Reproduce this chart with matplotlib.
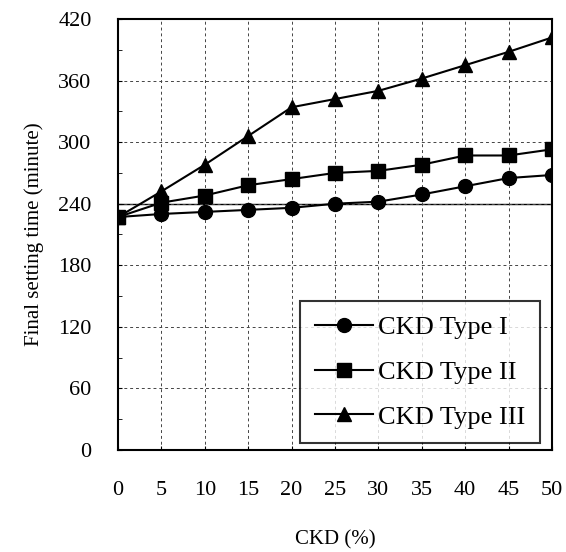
import matplotlib.pyplot as plt

plt.rcParams['font.family'] = ['Liberation Serif', 'DejaVu Serif']

ckd = [0, 5, 10, 15, 20, 25, 30, 35, 40, 45, 50]
type1 = [227, 230, 232, 234, 236, 240, 242, 249, 257, 265, 268]
type2 = [227, 241, 248, 258, 264, 270, 272, 278, 287, 287, 293]
type3 = [227, 252, 278, 306, 334, 342, 350, 362, 375, 388, 402]
labels = ["CKD Type I", "CKD Type II", "CKD Type III"]

fig = plt.figure(figsize=(5.66, 5.52), dpi=100)
ax = fig.add_axes([118 / 566, 1 - 450 / 552, 434 / 566, 431 / 552])

# grille pointillée + ligne pleine à 240
ax.grid(True, color='#444444', linestyle=(0, (3, 3)), linewidth=0.7)
ax.axhline(240, color='black', linewidth=1.0, zorder=1)

ax.plot(ckd, type1, '-o', color='black', markersize=10, linewidth=1.5, label=labels[0], zorder=3)
ax.plot(ckd, type2, '-s', color='black', markersize=10, linewidth=1.5, label=labels[1], zorder=3)
ax.plot(ckd, type3, '-^', color='black', markersize=10.5, linewidth=1.5, label=labels[2], zorder=3)

ax.set_xlim(0, 50)
ax.set_ylim(0, 420)
ax.set_xticks(range(0, 51, 5))
ax.set_yticks(range(0, 421, 60))
ax.set_yticks(range(30, 420, 60), minor=True)
ax.tick_params(axis='both', which='both', direction='in', length=3, labelsize=16)
ax.tick_params(axis='x', pad=22)
ax.tick_params(axis='y', pad=19)
for s in ax.spines.values():
    s.set_linewidth(1.5)

ax.set_xlabel("CKD (%)", fontsize=15, labelpad=22)
ax.set_ylabel("Final setting time (minute)", fontsize=15, labelpad=10)

leg = ax.legend(loc='lower right', fontsize=19, frameon=True, fancybox=False,
                edgecolor='black', handlelength=2.2, borderpad=0.55,
                labelspacing=0.8, handletextpad=0.2, borderaxespad=0,
                bbox_to_anchor=(0.972, 0.016))
leg.get_frame().set_linewidth(1.5)

fig.savefig("out.png", dpi=100)
